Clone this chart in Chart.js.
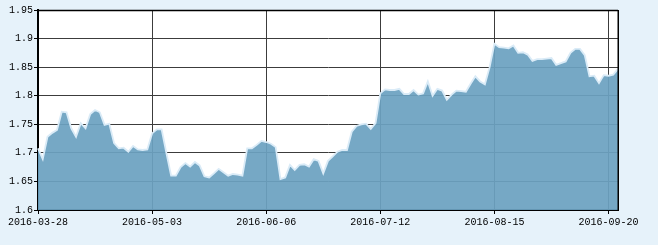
<!DOCTYPE html>
<html>
<head>
<meta charset="utf-8">
<script src="https://cdn.jsdelivr.net/npm/chart.js@4/dist/chart.umd.min.js"></script>
<style>
html,body{margin:0;padding:0;background:#E6F2FA;}
canvas{display:block;}
</style>
</head>
<body>
<canvas id="c" width="658" height="245"></canvas>
<script>
// Trading dates (category axis)
const dates = [
'2016-03-28','2016-03-29','2016-03-30','2016-03-31','2016-04-01','2016-04-05','2016-04-06','2016-04-07','2016-04-08',
'2016-04-11','2016-04-12','2016-04-13','2016-04-14','2016-04-15','2016-04-18','2016-04-19','2016-04-20','2016-04-21','2016-04-22',
'2016-04-25','2016-04-26','2016-04-27','2016-04-28','2016-04-29','2016-05-03','2016-05-04','2016-05-05','2016-05-06',
'2016-05-09','2016-05-10','2016-05-11','2016-05-12','2016-05-13','2016-05-16','2016-05-17','2016-05-18','2016-05-19','2016-05-20',
'2016-05-23','2016-05-24','2016-05-25','2016-05-26','2016-05-27','2016-05-30','2016-05-31','2016-06-01','2016-06-02','2016-06-03',
'2016-06-06','2016-06-07','2016-06-08','2016-06-13','2016-06-14','2016-06-15','2016-06-16','2016-06-17',
'2016-06-20','2016-06-21','2016-06-22','2016-06-23','2016-06-24','2016-06-27','2016-06-28','2016-06-29','2016-06-30','2016-07-01',
'2016-07-04','2016-07-05','2016-07-06','2016-07-07','2016-07-08','2016-07-11','2016-07-12','2016-07-13','2016-07-14','2016-07-15',
'2016-07-18','2016-07-19','2016-07-20','2016-07-21','2016-07-22','2016-07-25','2016-07-26','2016-07-27','2016-07-28','2016-07-29',
'2016-08-01','2016-08-02','2016-08-03','2016-08-04','2016-08-05','2016-08-08','2016-08-09','2016-08-10','2016-08-11','2016-08-12',
'2016-08-15','2016-08-16','2016-08-17','2016-08-18','2016-08-19','2016-08-22','2016-08-23','2016-08-24','2016-08-25','2016-08-26',
'2016-08-29','2016-08-30','2016-08-31','2016-09-01','2016-09-02','2016-09-05','2016-09-06','2016-09-07','2016-09-08','2016-09-09',
'2016-09-12','2016-09-13','2016-09-14','2016-09-19','2016-09-20','2016-09-21','2016-09-22'
];

// Series values
const values = [
1.708,1.689,1.728,1.735,1.740,1.772,1.771,1.743,1.728,1.752,
1.743,1.768,1.775,1.771,1.749,1.751,1.717,1.708,1.709,1.702,
1.712,1.706,1.705,1.706,1.734,1.741,1.741,1.700,1.660,1.660,
1.675,1.682,1.676,1.684,1.678,1.659,1.657,1.664,1.672,1.666,
1.660,1.663,1.662,1.660,1.708,1.708,1.714,1.721,1.719,1.716,
1.710,1.654,1.657,1.679,1.670,1.679,1.680,1.676,1.689,1.686,
1.664,1.686,1.694,1.702,1.705,1.705,1.737,1.747,1.750,1.751,
1.742,1.752,1.804,1.811,1.810,1.810,1.812,1.803,1.803,1.810,
1.802,1.804,1.825,1.800,1.812,1.809,1.793,1.802,1.809,1.808,
1.807,1.821,1.834,1.825,1.820,1.850,1.891,1.885,1.884,1.883,
1.888,1.875,1.876,1.872,1.861,1.864,1.864,1.865,1.866,1.854,
1.857,1.860,1.875,1.882,1.882,1.871,1.834,1.835,1.822,1.836,
1.835,1.837,1.847
];

// Tick labels
const xTickLabels = ['2016-03-28','2016-05-03','2016-06-06','2016-07-12','2016-08-15','2016-09-20'];
const yTickLabels = ['1.6','1.65','1.7','1.75','1.8','1.85','1.9','1.95'];

const yMin = parseFloat(yTickLabels[0]);
const yMax = parseFloat(yTickLabels[yTickLabels.length-1]);

const GRID = '#3c3c3c';
const FONT = {family: '"Liberation Mono", "DejaVu Sans Mono", monospace', size: 10};

const bgPlugin = {
  id: 'bg',
  beforeDraw(chart) {
    const {ctx, chartArea: a} = chart;
    ctx.save();
    ctx.fillStyle = '#E6F2FA';
    ctx.fillRect(0, 0, chart.width, chart.height);
    ctx.fillStyle = '#FFFFFF';
    ctx.fillRect(a.left, a.top, a.right - a.left, a.bottom - a.top);
    ctx.restore();
  },
  afterDraw(chart) {
    const {ctx, chartArea: a} = chart;
    ctx.save();
    ctx.strokeStyle = '#000';
    ctx.lineWidth = 1.5;
    ctx.beginPath();
    ctx.moveTo(a.left, a.top + 0.5);
    ctx.lineTo(a.right, a.top + 0.5);
    ctx.moveTo(a.right + 0.25, a.top);
    ctx.lineTo(a.right + 0.25, a.bottom);
    ctx.stroke();
    ctx.restore();
  }
};

new Chart(document.getElementById('c'), {
  type: 'line',
  data: {
    labels: dates,
    datasets: [{
      data: values,
      fill: 'start',
      backgroundColor: 'rgba(108,161,193,0.93)',
      borderColor: 'rgba(218,235,247,1)',
      borderWidth: 1.8,
      pointRadius: 0,
      tension: 0
    }]
  },
  options: {
    responsive: false,
    animation: false,
    events: [],
    layout: {padding: {top: 10, right: 40, left: 0, bottom: 0}},
    plugins: {legend: {display: false}, tooltip: {enabled: false}},
    scales: {
      x: {
        type: 'category',
        offset: false,
        afterFit(s) { s.height = 35; },
        border: {color: '#000', width: 2},
        grid: {color: GRID, lineWidth: 1, tickLength: 4, tickColor: '#000', drawTicks: true},
        ticks: {
          autoSkip: false, maxRotation: 0, minRotation: 0, padding: 2,
          color: '#000', font: FONT,
          callback(v, i) {
            const lab = dates[i];
            return xTickLabels.includes(lab) ? lab : null;
          }
        }
      },
      y: {
        min: yMin, max: yMax,
        afterFit(s) { s.width = 38; },
        border: {color: '#000', width: 2},
        grid: {color: GRID, lineWidth: 1, tickLength: 4, tickColor: '#000'},
        ticks: {
          stepSize: 0.05, padding: 1, color: '#000', font: FONT,
          callback(v) {
            const s = String(parseFloat(v.toFixed(2)));
            return yTickLabels.includes(s) ? s : null;
          }
        }
      }
    }
  },
  plugins: [bgPlugin]
});
</script>
</body>
</html>
